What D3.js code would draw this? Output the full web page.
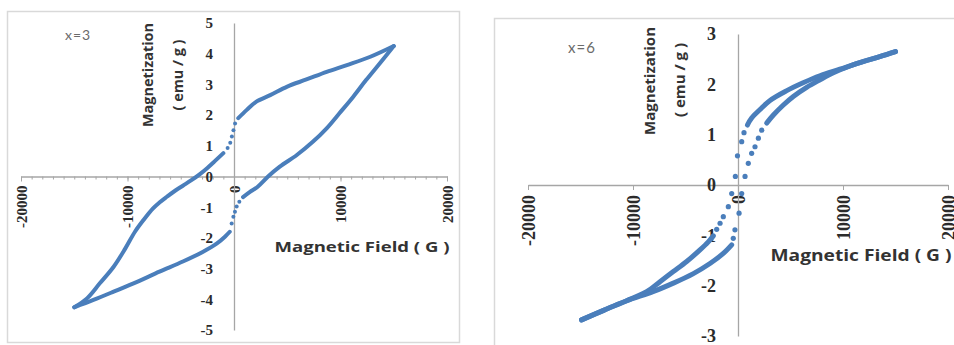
<!DOCTYPE html>
<html>
<head>
<meta charset="utf-8">
<script src="https://cdn.jsdelivr.net/npm/d3@7"></script>
<style>
  body { margin: 0; background: #fff; }
  svg { display: block; }
</style>
</head>
<body>
<div id="chart"></div>
<script>
// tick labels
const xTicks = [-20000, -10000, 0, 10000, 20000];
const yTicksX3 = [-5, -4, -3, -2, -1, 0, 1, 2, 3, 4, 5];
const yTicksX6 = [-3, -2, -1, 0, 1, 2, 3];

// x=3 loop, [field G, magnetization emu/g]
const x3DescTop = [[15000, 4.25], [12800, 3.9], [10600, 3.63], [8700, 3.41], [6800, 3.16], [5000, 2.93], [3400, 2.65], [2100, 2.44], [1200, 2.17], [400, 1.9]];
const x3DescGap = [[100, 1.73], [-50, 1.51], [-200, 1.3], [-350, 1.1], [-600, 0.93]];
const x3DescBottom = [[-1000, 0.76], [-1800, 0.5], [-2500, 0.28], [-3200, 0.08], [-4000, -0.12], [-4800, -0.3], [-5600, -0.48], [-6300, -0.66], [-7000, -0.85], [-7600, -1.04], [-8500, -1.42], [-9300, -1.8], [-10200, -2.34], [-11300, -2.94], [-12600, -3.48], [-13800, -3.97], [-15000, -4.26]];
const x3AscBottom = [[-15000, -4.26], [-13200, -4.02], [-11300, -3.75], [-9100, -3.43], [-7000, -3.1], [-4800, -2.77], [-2900, -2.45], [-1600, -2.18], [-850, -1.96], [-400, -1.8]];
const x3AscGap = [[-220, -1.53], [-60, -1.31], [90, -1.15], [250, -0.98], [500, -0.82]];
const x3AscTop = [[850, -0.67], [1500, -0.5], [2200, -0.34], [3200, 0], [4300, 0.32], [5900, 0.7], [7400, 1.13], [8700, 1.57], [9900, 2.06], [11200, 2.6], [12400, 3.14], [13700, 3.69], [15000, 4.25]];

// x=6 loop
const x6DescTop = [[15000, 2.65], [13500, 2.55], [11900, 2.45], [9700, 2.3], [7800, 2.17], [6200, 2.03], [4600, 1.87], [3050, 1.68], [2100, 1.5], [1300, 1.33], [900, 1.19]];
const x6DescGap = [[570, 1.04], [350, 0.86], [-50, 0.58], [-250, 0.17], [-600, -0.17], [-920, -0.43], [-1400, -0.63], [-1710, -0.76], [-2030, -0.88]];
const x6DescBottom = [[-2350, -1.01], [-2830, -1.13], [-3620, -1.29], [-4890, -1.52], [-6160, -1.72], [-7430, -1.92], [-8700, -2.12], [-10600, -2.3], [-12800, -2.49], [-14900, -2.68]];
const x6AscBottom = [[-14900, -2.68], [-12800, -2.49], [-10600, -2.3], [-8100, -2.12], [-6160, -1.95], [-4250, -1.76], [-2670, -1.56], [-1400, -1.36], [-600, -1.19]];
const x6AscGap = [[-450, -1.06], [-290, -0.89], [100, -0.56], [350, -0.17], [670, 0.17], [980, 0.43], [1300, 0.63], [1620, 0.76], [1940, 0.93], [2260, 1.09]];
const x6AscTop = [[2730, 1.23], [3370, 1.39], [4320, 1.59], [5270, 1.76], [6540, 1.94], [7810, 2.09], [9080, 2.23], [10350, 2.34], [11900, 2.45], [13500, 2.55], [15000, 2.65]];

const blue = '#4a7ebb';
const axisColor = '#a6a6a6';
const labelColor = '#2b2b2b';

const svg = d3.select('#chart').append('svg')
    .attr('width', 954)
    .attr('height', 345);

function drawPanel(cfg) {
    let x = d3.scaleLinear().domain([-20000, 20000]).range(cfg.xRange);
    let y = d3.scaleLinear().domain(cfg.yDomain).range(cfg.yRange);

    // chart area border
    svg.append('rect')
        .attr('x', cfg.box[0] + 0.5)
        .attr('y', cfg.box[1] + 0.5)
        .attr('width', cfg.box[2])
        .attr('height', cfg.box[3])
        .attr('fill', 'none')
        .attr('stroke', '#d9d9d9')
        .attr('stroke-width', 1.5);

    let g = svg.append('g');

    // minor ticks on x axis (left panel only)
    if (cfg.minor) {
        g.append('g')
            .attr('transform', 'translate(0,' + y(0) + ')')
            .call(d3.axisBottom(x).tickValues(d3.range(-20000, 20001, 1000)).tickSize(3).tickSizeOuter(0).tickFormat(''))
            .call(s => s.select('.domain').remove())
            .selectAll('line').attr('stroke', axisColor);
    }

    // x axis through y = 0
    let xg = g.append('g')
        .attr('transform', 'translate(0,' + y(0) + ')')
        .call(d3.axisBottom(x).tickValues(xTicks).tickSize(5).tickSizeOuter(0).tickFormat(d => String(d)));
    xg.select('.domain').attr('stroke', axisColor).attr('stroke-width', 1.3);
    xg.selectAll('.tick line').attr('stroke', axisColor);
    xg.selectAll('.tick text')
        .attr('transform', 'rotate(-90)')
        .attr('x', -cfg.xLabelGap)
        .attr('y', 0)
        .attr('dy', '0.35em')
        .attr('text-anchor', 'end')
        .attr('fill', labelColor)
        .style('font-family', '"Liberation Serif", serif')
        .style('font-weight', 'bold')
        .style('font-size', cfg.tickFont + 'px');

    // y axis through x = 0
    let yg = g.append('g')
        .attr('transform', 'translate(' + x(0) + ',0)')
        .call(d3.axisLeft(y).tickValues(cfg.yTicks).tickSize(0).tickSizeOuter(0)
            .tickPadding(cfg.yLabelGap).tickFormat(d => String(d)));
    yg.select('.domain').attr('stroke', axisColor).attr('stroke-width', 1.3);
    yg.selectAll('.tick text')
        .attr('fill', labelColor)
        .style('font-family', '"Liberation Serif", serif')
        .style('font-weight', 'bold')
        .style('font-size', cfg.tickFont + 'px');

    // data: dense parts as a thick curve, sparse parts as single markers
    let line = d3.line()
        .x(d => x(d[0]))
        .y(d => y(d[1]))
        .curve(d3.curveCatmullRom);

    cfg.lines.forEach(function (pts) {
        g.append('path')
            .datum(pts)
            .attr('d', line)
            .attr('fill', 'none')
            .attr('stroke', blue)
            .attr('stroke-width', cfg.lineWidth)
            .attr('stroke-linecap', 'round')
            .attr('stroke-linejoin', 'round');
    });

    cfg.dots.forEach(function (pts) {
        g.append('g').selectAll('circle')
            .data(pts)
            .enter().append('circle')
            .attr('cx', d => x(d[0]))
            .attr('cy', d => y(d[1]))
            .attr('r', cfg.dotR)
            .attr('fill', blue);
    });

    // titles
    let t = svg.append('g')
        .attr('fill', '#333')
        .style('font-family', '"Open Sans", Lato, sans-serif')
        .style('font-weight', 'bold');
    t.append('text')
        .attr('transform', 'translate(' + cfg.yTitle1[0] + ',' + cfg.yTitle1[1] + ') rotate(-90)')
        .attr('text-anchor', 'middle')
        .attr('dy', '0.35em')
        .attr('textLength', cfg.yTitle1[2])
        .attr('lengthAdjust', 'spacingAndGlyphs')
        .style('font-size', cfg.titleFont + 'px')
        .text('Magnetization');
    t.append('text')
        .attr('transform', 'translate(' + cfg.yTitle2[0] + ',' + cfg.yTitle2[1] + ') rotate(-90)')
        .attr('text-anchor', 'middle')
        .attr('dy', '0.35em')
        .attr('textLength', cfg.yTitle2[2])
        .attr('lengthAdjust', 'spacingAndGlyphs')
        .style('font-size', cfg.titleFont + 'px')
        .text('( emu / g )');
    t.append('text')
        .attr('x', cfg.xTitle[0])
        .attr('y', cfg.xTitle[1])
        .attr('text-anchor', 'middle')
        .attr('dy', '0.35em')
        .attr('textLength', cfg.xTitle[2])
        .attr('lengthAdjust', 'spacingAndGlyphs')
        .style('font-size', cfg.xTitleFont + 'px')
        .text('Magnetic Field ( G )');

    svg.append('text')
        .attr('x', cfg.tag[0])
        .attr('y', cfg.tag[1])
        .attr('dy', '0.35em')
        .attr('fill', '#6b6b6b')
        .style('font-family', 'Lato, sans-serif')
        .style('font-size', cfg.tagFont + 'px')
        .style('letter-spacing', '1px')
        .text(cfg.tagText);
}

drawPanel({
    box: [7, 11, 452, 331],
    xRange: [21, 447],
    yDomain: [-5, 5],
    yRange: [330, 23],
    yTicks: yTicksX3,
    minor: true,
    xLabelGap: 9,
    yLabelGap: 21,
    tickFont: 15,
    lines: [x3DescTop, x3DescBottom, x3AscBottom, x3AscTop],
    dots: [x3DescGap, x3AscGap],
    lineWidth: 4,
    dotR: 2,
    yTitle1: [148, 75, 104],
    yTitle2: [178, 75, 71],
    titleFont: 14,
    xTitle: [362, 247, 175],
    xTitleFont: 15,
    tag: [65, 35],
    tagText: 'x=3',
    tagFont: 14
});

drawPanel({
    box: [494, 18, 470, 340],
    xRange: [528, 948],
    yDomain: [-3, 3],
    yRange: [336, 34],
    yTicks: yTicksX6,
    minor: false,
    xLabelGap: 10,
    yLabelGap: 22,
    tickFont: 18,
    lines: [x6DescTop, x6DescBottom, x6AscBottom, x6AscTop],
    dots: [x6DescGap, x6AscGap],
    lineWidth: 5,
    dotR: 2.6,
    yTitle1: [650, 81, 108],
    yTitle2: [680, 80, 74],
    titleFont: 15,
    xTitle: [861, 255, 181],
    xTitleFont: 16,
    tag: [568, 48],
    tagText: 'x=6',
    tagFont: 15
});
</script>
</body>
</html>
